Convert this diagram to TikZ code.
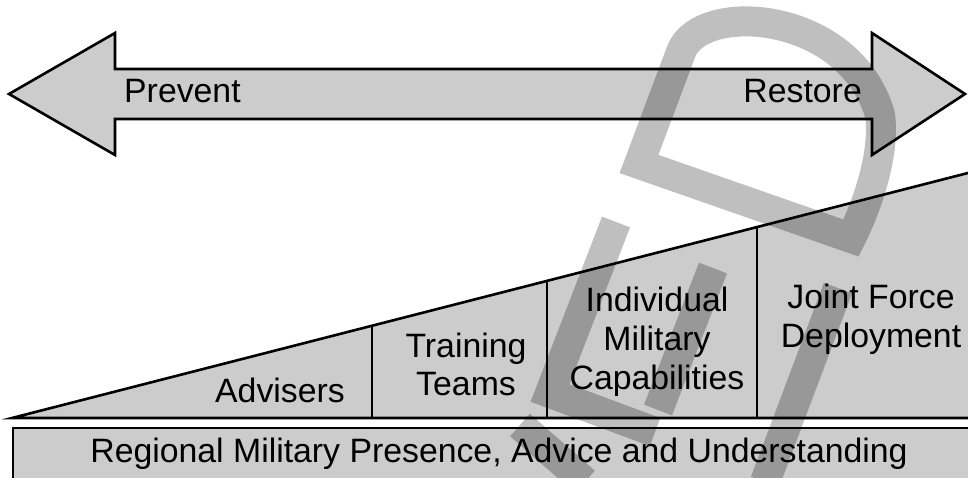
\documentclass[tikz,border=0pt]{standalone}
\usepackage{fontspec}
\setmainfont{Liberation Sans}
\definecolor{boxgray}{RGB}{204,204,204}
\begin{document}
\begin{tikzpicture}[x=1pt,y=-1pt,
  shapefill/.style={fill=boxgray, draw=black, line width=2.6pt, line join=miter},
  divider/.style={draw=black, line width=2.2pt},
  lbl/.style={font=\fontsize{33.8}{39}\selectfont, inner sep=0pt},
  wm/.style={draw=black, draw opacity=0.25, line width=30pt, line join=miter, line cap=butt}]
\useasboundingbox (0,0) rectangle (968,478);
\clip (0,0) rectangle (968,478);
% double arrow
\draw[shapefill] (9,94) -- (115,33) -- (115,69) -- (872,69) -- (872,33) -- (965,94)
  -- (872,155) -- (872,119) -- (115,119) -- (115,155) -- cycle;
\node[lbl, anchor=base west] (prevent) at (124,103) {Prevent};
\node[lbl, anchor=base east] (restore) at (862,103) {Restore};
% wedge
\coordinate (wl) at (12,418);
\draw[shapefill] (wl) -- (975,171.2) -- (975,418) -- cycle;
\draw[divider] (372,418) -- (372,325.7);
\draw[divider] (547,418) -- (547,280.9);
\draw[divider] (757,418) -- (757,227.1);
\node[lbl, anchor=base east] (adv) at (345,402) {Advisers};
\node[lbl, anchor=base] (tr1) at (466,357) {Training};
\node[lbl, anchor=base] (tr2) at (466,395) {Teams};
\node[lbl, anchor=base] (ind1) at (657,311) {Individual};
\node[lbl, anchor=base] (ind2) at (657,350) {Military};
\node[lbl, anchor=base] (ind3) at (657,389) {Capabilities};
\node[lbl, anchor=base] (jf1) at (871,308) {Joint Force};
\node[lbl, anchor=base] (jf2) at (871,347) {Deployment};
% base bar
\draw[shapefill] (13,428) rectangle (980,495);
\node[lbl, anchor=base] (reg) at (499,462) {Regional Military Presence, Advice and Understanding};
% watermark
\draw[wm] (851,238) -- (639,164) -- (681,52) .. controls (700,0) and (850,10) .. (880,115)
  .. controls (885,150) and (870,200) .. cycle;
\draw[wm] (616,222) -- (550,393) -- (655,432);
\draw[wm] (713,268) -- (658,410);
\draw[wm] (838,288) -- (765,482);
\draw[wm] (520,425) -- (585,482);
\end{tikzpicture}
\end{document}
